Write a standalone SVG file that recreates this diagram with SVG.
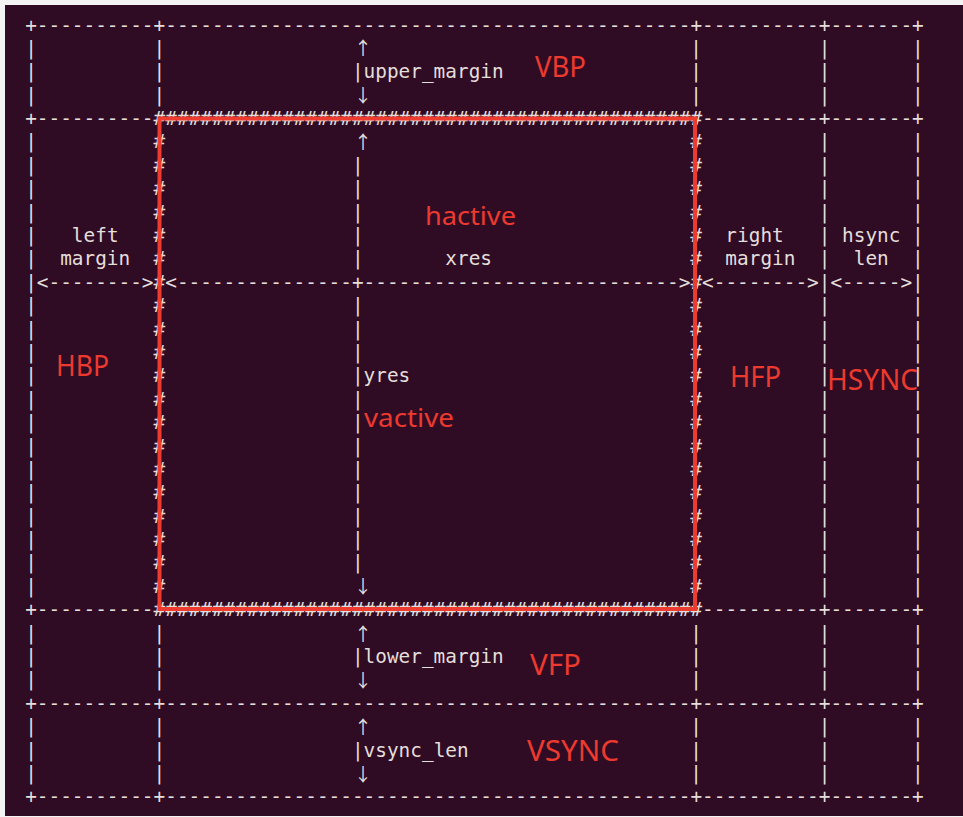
<svg xmlns="http://www.w3.org/2000/svg" width="963" height="817" viewBox="0 0 963 817">
<style>
.bg{fill:#2f0b24}
.ascii{font-family:"DejaVu Sans Mono","Liberation Mono",monospace;font-size:19.38px;fill:#e4dfdb;white-space:pre}
.arrow{font-family:"Noto Sans CJK SC","DejaVu Sans",sans-serif;font-size:18px;fill:#e4dfdb;text-anchor:middle}
.red{font-family:"Noto Sans","Liberation Sans",sans-serif;fill:#ec3a2f}
.cap{font-size:29px}
.low{font-size:25px}
.frame{fill:none;stroke:#ee3b2f;stroke-width:4}
</style>
<rect x="0" y="0" width="963" height="817" fill="#f4f4f4"/>
<rect class="bg" x="5" y="5" width="958" height="811"/>
<g id="ascii-rules" xml:space="preserve">
<text class="ascii" x="25.17" y="31.5" textLength="898.6">+----------+---------------------------------------------+----------+-------+</text>
<text class="ascii" x="25.17" y="125.06" textLength="898.6">+----------###############################################----------+-------+</text>
<text class="ascii" x="25.17" y="288.79" textLength="898.6">|&lt;--------&gt;#&lt;---------------+---------------------------&gt;#&lt;--------&gt;|&lt;-----&gt;|</text>
<text class="ascii" x="25.17" y="616.25" textLength="898.6">+----------###############################################----------+-------+</text>
<text class="ascii" x="25.17" y="709.81" textLength="898.6">+----------+---------------------------------------------+----------+-------+</text>
<text class="ascii" x="25.17" y="803.37" textLength="898.6">+----------+---------------------------------------------+----------+-------+</text>
</g>
<g id="ascii-columns">
<text id="col-0" class="ascii" x="25.17 25.17 25.17 25.17 25.17 25.17 25.17 25.17 25.17 25.17 25.17 25.17 25.17 25.17 25.17 25.17 25.17 25.17 25.17 25.17 25.17 25.17 25.17 25.17 25.17 25.17 25.17 25.17" y="54.89 78.28 101.67 148.45 171.84 195.23 218.62 242.01 265.4 312.18 335.57 358.96 382.35 405.74 429.13 452.52 475.91 499.3 522.69 546.08 569.47 592.86 639.64 663.03 686.42 733.2 756.59 779.98">||||||||||||||||||||||||||||</text>
<text id="col-11" class="ascii" x="153.54 153.54 153.54 153.54 153.54 153.54 153.54 153.54 153.54 153.54 153.54 153.54 153.54 153.54 153.54 153.54 153.54 153.54 153.54 153.54 153.54 153.54 153.54 153.54 153.54 153.54 153.54 153.54" y="54.89 78.28 101.67 148.45 171.84 195.23 218.62 242.01 265.4 312.18 335.57 358.96 382.35 405.74 429.13 452.52 475.91 499.3 522.69 546.08 569.47 592.86 639.64 663.03 686.42 733.2 756.59 779.98">|||###################||||||</text>
<text id="col-28-upper" class="ascii" x="351.93 351.93 351.93 351.93 351.93" y="171.84 195.23 218.62 242.01 265.4">|||||</text>
<text id="col-28-mid" class="ascii" x="351.93 351.93 351.93" y="312.18 335.57 358.96">|||</text>
<text id="col-28-lower" class="ascii" x="351.93 351.93 351.93 351.93 351.93 351.93 351.93 351.93" y="405.74 429.13 452.52 475.91 499.3 522.69 546.08 569.47">||||||||</text>
<text id="col-57" class="ascii" x="690.36 690.36 690.36 690.36 690.36 690.36 690.36 690.36 690.36 690.36 690.36 690.36 690.36 690.36 690.36 690.36 690.36 690.36 690.36 690.36 690.36 690.36 690.36 690.36 690.36 690.36 690.36 690.36" y="54.89 78.28 101.67 148.45 171.84 195.23 218.62 242.01 265.4 312.18 335.57 358.96 382.35 405.74 429.13 452.52 475.91 499.3 522.69 546.08 569.47 592.86 639.64 663.03 686.42 733.2 756.59 779.98">|||###################||||||</text>
<text id="col-68" class="ascii" x="818.73 818.73 818.73 818.73 818.73 818.73 818.73 818.73 818.73 818.73 818.73 818.73 818.73 818.73 818.73 818.73 818.73 818.73 818.73 818.73 818.73 818.73 818.73 818.73 818.73 818.73 818.73 818.73" y="54.89 78.28 101.67 148.45 171.84 195.23 218.62 242.01 265.4 312.18 335.57 358.96 382.35 405.74 429.13 452.52 475.91 499.3 522.69 546.08 569.47 592.86 639.64 663.03 686.42 733.2 756.59 779.98">||||||||||||||||||||||||||||</text>
<text id="col-76" class="ascii" x="912.09 912.09 912.09 912.09 912.09 912.09 912.09 912.09 912.09 912.09 912.09 912.09 912.09 912.09 912.09 912.09 912.09 912.09 912.09 912.09 912.09 912.09 912.09 912.09 912.09 912.09 912.09 912.09" y="54.89 78.28 101.67 148.45 171.84 195.23 218.62 242.01 265.4 312.18 335.57 358.96 382.35 405.74 429.13 452.52 475.91 499.3 522.69 546.08 569.47 592.86 639.64 663.03 686.42 733.2 756.59 779.98">||||||||||||||||||||||||||||</text>
</g>
<g id="ascii-labels">
<text class="ascii" x="351.93" y="78.28" textLength="151.7">|upper_margin</text>
<text class="ascii" x="71.85" y="242.01" textLength="46.7">left</text>
<text class="ascii" x="60.18" y="265.4" textLength="70">margin</text>
<text class="ascii" x="445.29" y="265.4" textLength="46.7">xres</text>
<text class="ascii" x="725.37" y="242.01" textLength="58.35">right</text>
<text class="ascii" x="725.37" y="265.4" textLength="70">margin</text>
<text class="ascii" x="842.07" y="242.01" textLength="58.35">hsync</text>
<text class="ascii" x="853.74" y="265.4" textLength="35">len</text>
<text class="ascii" x="351.93" y="382.35" textLength="58.35">|yres</text>
<text class="ascii" x="351.93" y="663.03" textLength="151.7">|lower_margin</text>
<text class="ascii" x="351.93" y="756.59" textLength="116.7">|vsync_len</text>
</g>
<g id="arrows">
<text class="arrow" x="363" y="55.4">↑</text>
<text class="arrow" x="363" y="102.2">↓</text>
<text class="arrow" x="363" y="149">↑</text>
<text class="arrow" x="363" y="593.4">↓</text>
<text class="arrow" x="363" y="640.8">↑</text>
<text class="arrow" x="363" y="686.9">↓</text>
<text class="arrow" x="363" y="733.7">↑</text>
<text class="arrow" x="363" y="780.5">↓</text>
</g>
<g id="active-area">
<rect class="frame" x="159.5" y="118.5" width="535.5" height="490.5"/>
</g>
<g id="timing-labels">
<text id="VBP" class="red cap" x="535" y="77" textLength="51" lengthAdjust="spacingAndGlyphs">VBP</text>
<text id="hactive" class="red low" x="425" y="225" textLength="91" lengthAdjust="spacingAndGlyphs">hactive</text>
<text id="HBP" class="red cap" x="56" y="376" textLength="53" lengthAdjust="spacingAndGlyphs">HBP</text>
<text id="HFP" class="red cap" x="730" y="387" textLength="51" lengthAdjust="spacingAndGlyphs">HFP</text>
<text id="HSYNC" class="red cap" x="827" y="390" textLength="91" lengthAdjust="spacingAndGlyphs">HSYNC</text>
<text id="vactive" class="red low" x="364" y="427" textLength="90" lengthAdjust="spacingAndGlyphs">vactive</text>
<text id="VFP" class="red cap" x="530" y="675" textLength="51" lengthAdjust="spacingAndGlyphs">VFP</text>
<text id="VSYNC" class="red cap" x="527" y="761" textLength="92" lengthAdjust="spacingAndGlyphs">VSYNC</text>
</g>
</svg>
